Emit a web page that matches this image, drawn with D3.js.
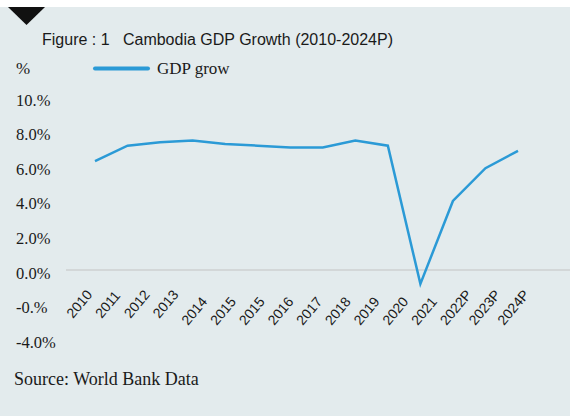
<!DOCTYPE html>
<html><head><meta charset="utf-8">
<script src="https://cdn.jsdelivr.net/npm/d3@7/dist/d3.min.js"></script>
<style>html,body{margin:0;padding:0;background:#fff;} svg{display:block;}</style>
</head><body>
<svg id="chart" width="570" height="416"></svg>
<script>
// GDP growth series (%)
const pointYears = ["2010","2011","2012","2013","2014","2015","2016","2017","2018","2019","2020","2021","2022P","2023P"];
const gdpGrowth = [6.3, 7.2, 7.4, 7.5, 7.3, 7.2, 7.1, 7.1, 7.5, 7.2, -0.8, 4.0, 5.9, 6.9];
// category labels along the bottom
const axisLabels = ["2010","2011","2012","2013","2014","2015","2015","2016","2017","2018","2019","2020","2021","2022P","2023P","2024P"];
// vertical axis
const yTickValues = [10, 8, 6, 4, 2, 0, -2, -4];
const yTickLabels = ["10.%","8.0%","6.0%","4.0%","2.0%","0.0%","-0.%","-4.0%"];
const titleText = "Figure : 1   Cambodia GDP Growth (2010-2024P)";
const legendText = "GDP grow";
const sourceText = "Source: World Bank Data";

const W = 570, H = 416;
const bg = "#e3ebed", lineColor = "#2b9ad6";
const serif = "'Liberation Serif', 'DejaVu Serif', serif";
const sans = "'Liberation Sans', Arial, sans-serif";

const svg = d3.select("#chart");
svg.append("rect").attr("width", W).attr("height", H).attr("fill", "#fff");
svg.append("rect").attr("y", 7).attr("width", W).attr("height", H - 7).attr("fill", bg);

// corner marker
svg.append("path").attr("d", "M8,7 L45,7 L26.5,25 Z").attr("fill", "#111");

svg.append("text").attr("x", 42).attr("y", 45)
  .attr("font-family", sans).attr("font-size", 16).attr("fill", "#1a1a1a")
  .attr("xml:space", "preserve").text(titleText);

svg.append("text").attr("x", 16).attr("y", 74)
  .attr("font-family", serif).attr("font-size", 17).attr("fill", "#1a1a1a").text("%");

// legend
svg.append("line").attr("x1", 95).attr("x2", 148).attr("y1", 68.5).attr("y2", 68.5)
  .attr("stroke", lineColor).attr("stroke-width", 4).attr("stroke-linecap", "round");
svg.append("text").attr("x", 157).attr("y", 74)
  .attr("font-family", serif).attr("font-size", 17).attr("fill", "#1a1a1a").text(legendText);

// scales
const y = d3.scaleLinear().domain([-4, 10]).range([339.2, 97.3]);
const x = d3.scalePoint().domain(pointYears).range([95, 518]);
const xLab = d3.scalePoint().domain(d3.range(axisLabels.length)).range([73, 504]);

// y labels
svg.append("g").selectAll("text").data(yTickValues).join("text")
  .attr("x", 16).attr("y", d => y(d) + 2.7).attr("dy", "0.35em")
  .attr("font-family", serif).attr("font-size", 16.5).attr("fill", "#1a1a1a")
  .text((d, i) => yTickLabels[i]);

// zero baseline
svg.append("line").attr("x1", 66).attr("x2", W).attr("y1", y(0)).attr("y2", y(0))
  .attr("stroke", "#d3d7d8").attr("stroke-width", 2);

// x labels
svg.append("g").selectAll("text").data(axisLabels).join("text")
  .attr("transform", (d, i) => `translate(${xLab(i)},${i < 4 ? 319 : 326}) rotate(-50)`)
  .attr("font-family", sans).attr("font-size", 14).attr("fill", "#1a1a1a")
  .text(d => d);

// line
const line = d3.line().x((d, i) => x(pointYears[i])).y(d => y(d));
svg.append("path").datum(gdpGrowth).attr("d", line)
  .attr("fill", "none").attr("stroke", lineColor).attr("stroke-width", 2.5)
  .attr("stroke-linejoin", "miter");

svg.append("text").attr("x", 14).attr("y", 385)
  .attr("font-family", serif).attr("font-size", 18).attr("fill", "#1a1a1a").text(sourceText);
</script>
</body></html>
